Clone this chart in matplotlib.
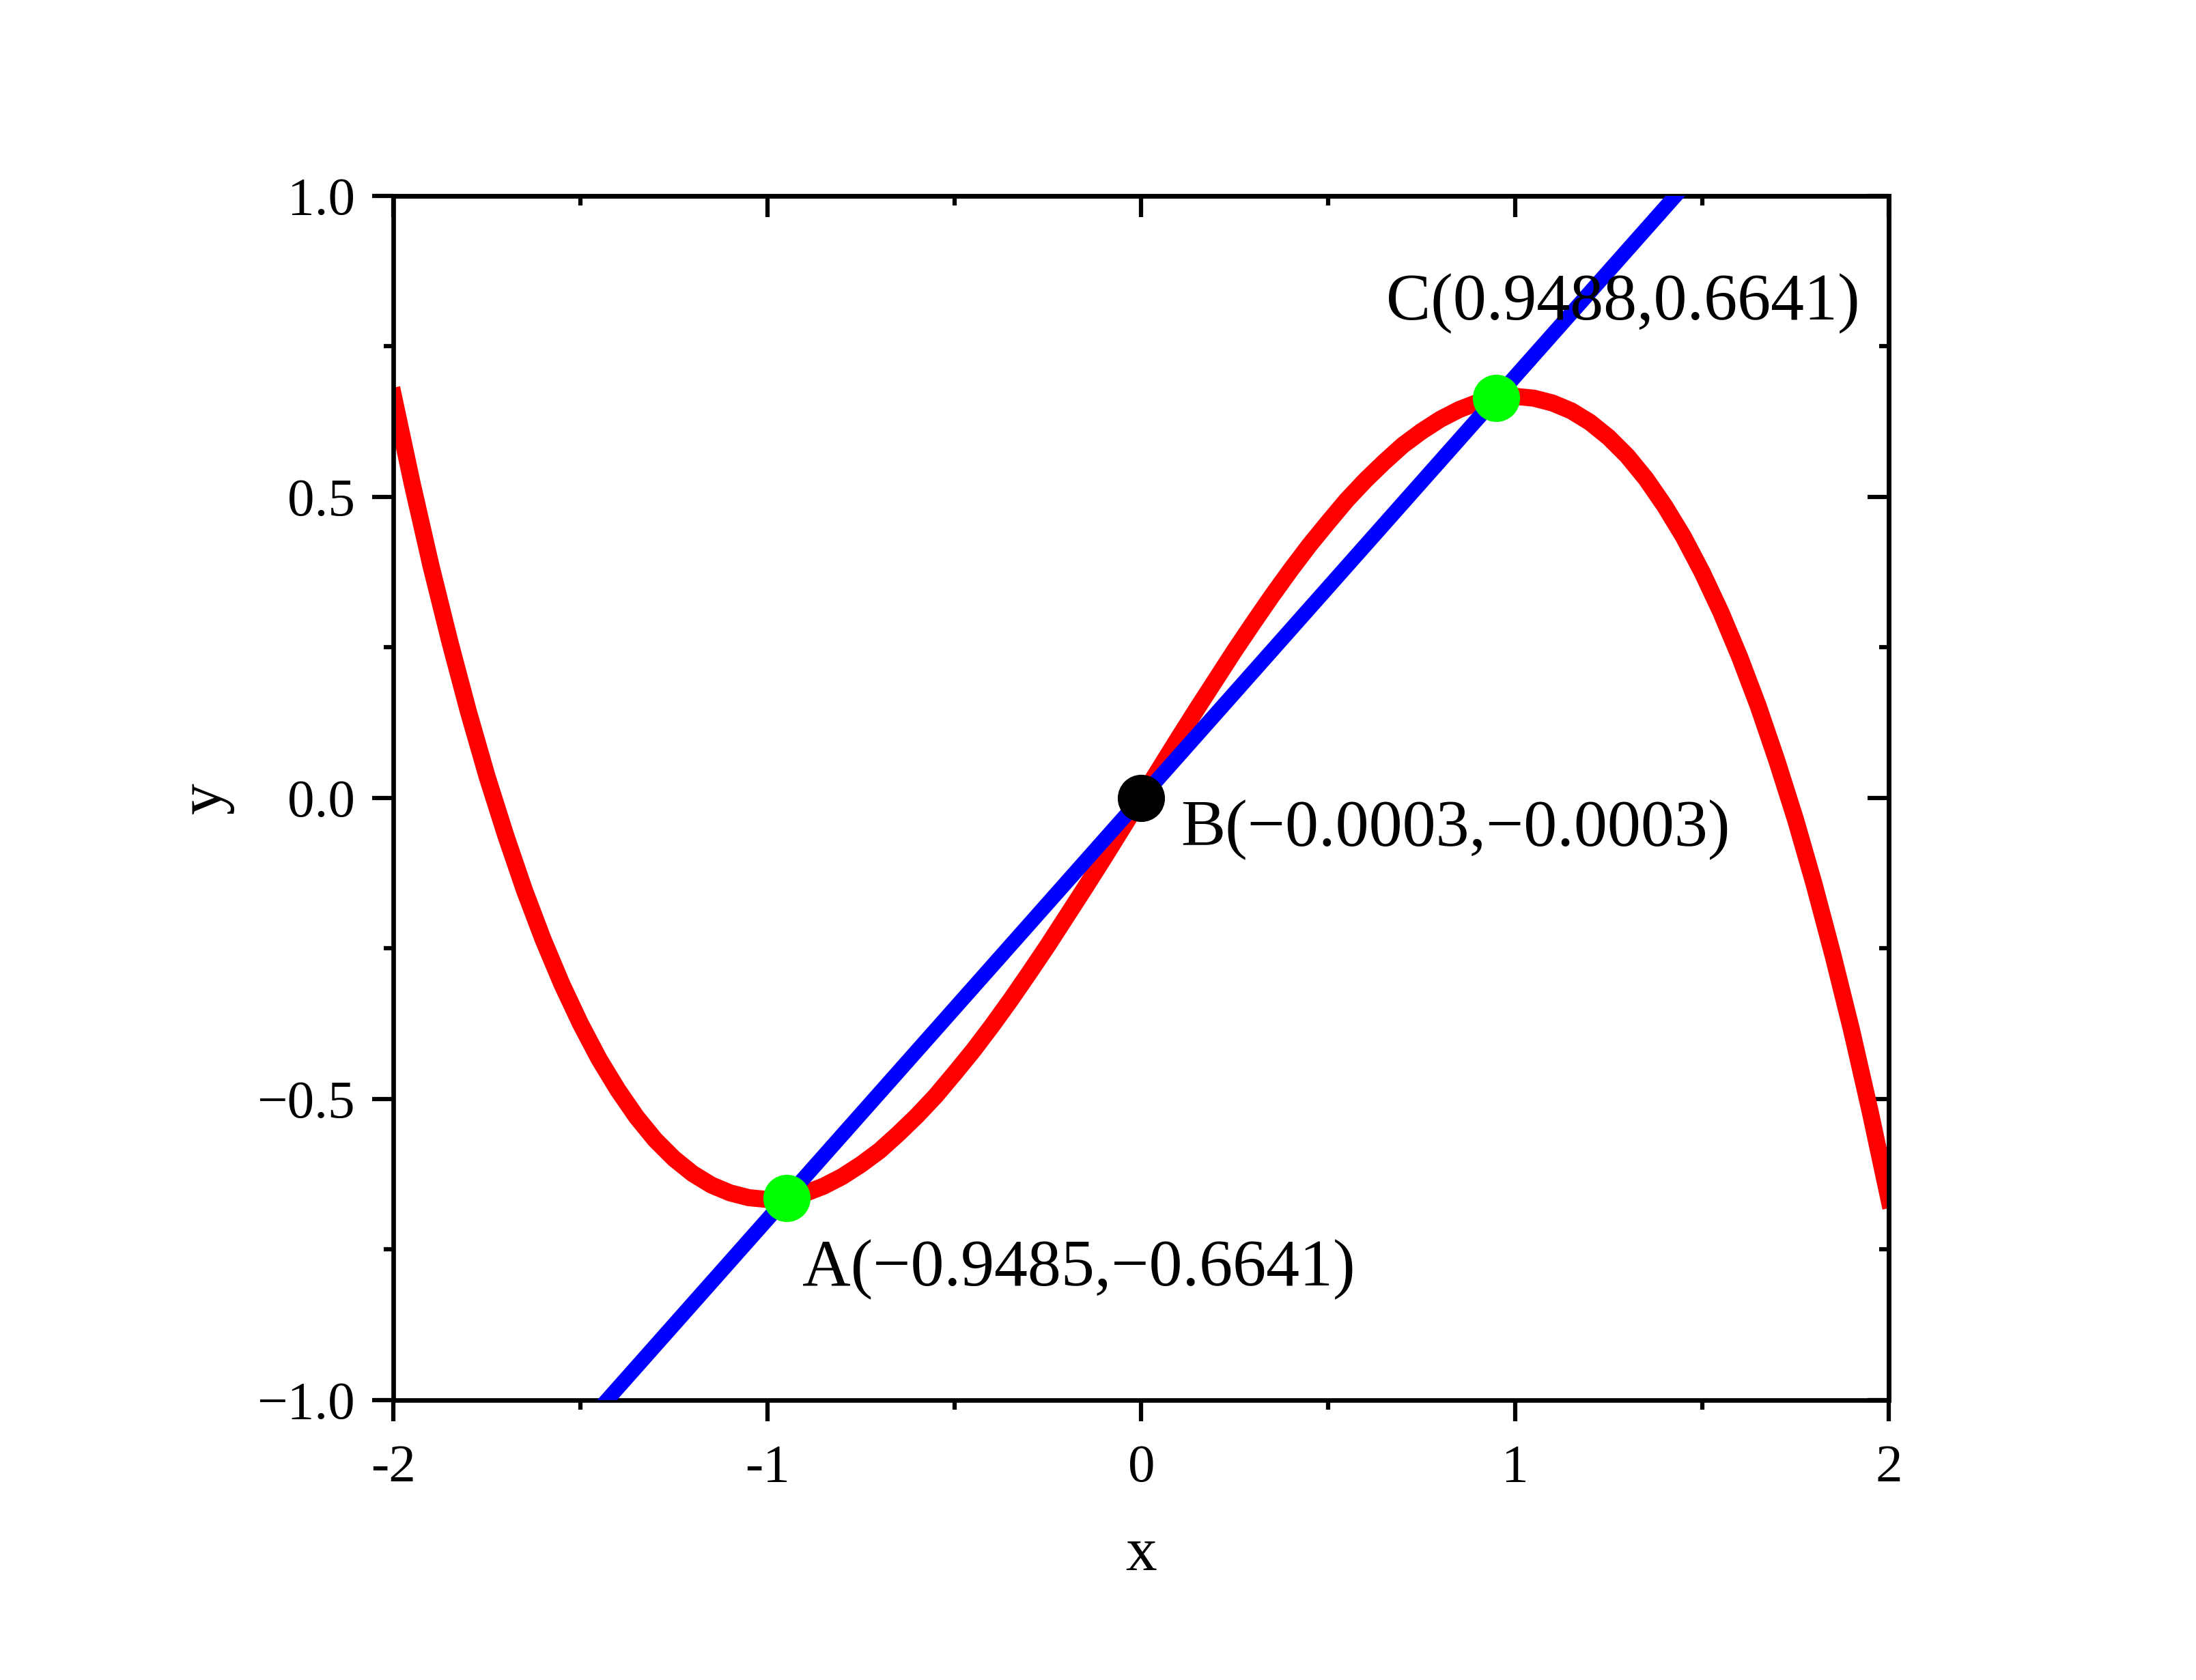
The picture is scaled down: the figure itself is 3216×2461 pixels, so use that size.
import numpy as np
import matplotlib
matplotlib.use("Agg")
import matplotlib.pyplot as plt

# curve values (step 0.05)
x_curve = [-2.0, -1.95, -1.9, -1.85, -1.8, -1.75, -1.7, -1.65, -1.6, -1.55,
           -1.5, -1.45, -1.4, -1.35, -1.3, -1.25, -1.2, -1.15, -1.1, -1.05,
           -1.0, -0.95, -0.9, -0.85, -0.8, -0.75, -0.7, -0.65, -0.6, -0.55,
           -0.5, -0.45, -0.4, -0.35, -0.3, -0.25, -0.2, -0.15, -0.1, -0.05,
           0.0, 0.05, 0.1, 0.15, 0.2, 0.25, 0.3, 0.35, 0.4, 0.45,
           0.5, 0.55, 0.6, 0.65, 0.7, 0.75, 0.8, 0.85, 0.9, 0.95,
           1.0, 1.05, 1.1, 1.15, 1.2, 1.25, 1.3, 1.35, 1.4, 1.45,
           1.5, 1.55, 1.6, 1.65, 1.7, 1.75, 1.8, 1.85, 1.9, 1.95, 2.0]
y_curve = [0.667, 0.522, 0.386, 0.261, 0.144, 0.036, -0.062, -0.153, -0.235, -0.309,
           -0.375, -0.434, -0.485, -0.530, -0.568, -0.599, -0.624, -0.643, -0.656, -0.664,
           -0.667, -0.664, -0.657, -0.645, -0.629, -0.609, -0.586, -0.558, -0.528, -0.495,
           -0.458, -0.420, -0.379, -0.336, -0.291, -0.245, -0.197, -0.149, -0.100, -0.050,
           0.0, 0.050, 0.100, 0.149, 0.197, 0.245, 0.291, 0.336, 0.379, 0.420,
           0.458, 0.495, 0.528, 0.558, 0.586, 0.609, 0.629, 0.645, 0.657, 0.664,
           0.667, 0.664, 0.656, 0.643, 0.624, 0.599, 0.568, 0.530, 0.485, 0.434,
           0.375, 0.309, 0.235, 0.153, 0.062, -0.036, -0.144, -0.261, -0.386, -0.522, -0.667]

# straight line endpoints
x_line = [-2.0, 2.0]
y_line = [-1.4, 1.4]

# marked points
pt_names = ['A', 'B', 'C']
pt_x = [-0.9485, -0.0003, 0.9488]
pt_y = [-0.6641, -0.0003, 0.6641]
pt_colors = ['#00ff00', 'black', '#00ff00']
label_x = [-0.906, 0.105, 0.655]
label_y = [-0.81, -0.08, 0.795]

xticks = [-2, -1, 0, 1, 2]
xtick_labels = ['-2', '-1', '0', '1', '2']
yticks = [-1.0, -0.5, 0.0, 0.5, 1.0]
ytick_labels = ['\u22121.0', '\u22120.5', '0.0', '0.5', '1.0']

plt.rcParams['font.family'] = ['Liberation Serif', 'DejaVu Serif']

fig = plt.figure(figsize=(3216 / 300, 2461 / 300), dpi=300)
ax = fig.add_axes([0.1792, 0.1667, 0.681, 0.7167])

ax.plot(x_curve, y_curve, color='red', lw=6.0, zorder=2)
ax.plot(x_line, y_line, color='blue', lw=5.2, zorder=3)

for n, px, py, c, lx, ly in zip(pt_names, pt_x, pt_y, pt_colors, label_x, label_y):
    ax.plot([px], [py], marker='o', ms=15.6, color=c, mec=c, ls='none', zorder=4)
    txt = '%s(%.4f,%.4f)' % (n, px, py)
    ax.text(lx, ly, txt.replace('-', '\u2212'), fontsize=23.5, ha='left', va='baseline')

ax.set_xlim(-2, 2)
ax.set_ylim(-1, 1)
ax.set_xticks(xticks)
ax.set_xticklabels(xtick_labels)
ax.set_yticks(yticks)
ax.set_yticklabels(ytick_labels)
ax.set_xticks(np.arange(-1.5, 2, 1.0), minor=True)
ax.set_yticks(np.arange(-0.75, 1, 0.5), minor=True)
ax.tick_params(which='major', direction='out', length=7.5, width=1.5, labelsize=19, pad=6)
ax.tick_params(which='minor', direction='out', length=3.3, width=1.5)
ax.tick_params(axis='x', which='major', pad=8)

for s in ax.spines.values():
    s.set_linewidth(1.6)

# inward ticks on top and right
secx = ax.secondary_xaxis('top')
secx.set_xticks(xticks)
secx.set_xticks(np.arange(-1.5, 2, 1.0), minor=True)
secx.tick_params(which='major', direction='in', length=7.5, width=1.5, labeltop=False)
secx.tick_params(which='minor', direction='in', length=3.3, width=1.5)
secx.spines['top'].set_linewidth(1.6)
secy = ax.secondary_yaxis('right')
secy.set_yticks(yticks)
secy.set_yticks(np.arange(-0.75, 1, 0.5), minor=True)
secy.tick_params(which='major', direction='in', length=7.5, width=1.5, labelright=False)
secy.tick_params(which='minor', direction='in', length=3.3, width=1.5)
secy.spines['right'].set_linewidth(1.6)

ax.set_xlabel('x', fontsize=22, labelpad=12)
ax.set_ylabel('y', fontsize=22, labelpad=8)

fig.savefig('out.png', dpi=300)
